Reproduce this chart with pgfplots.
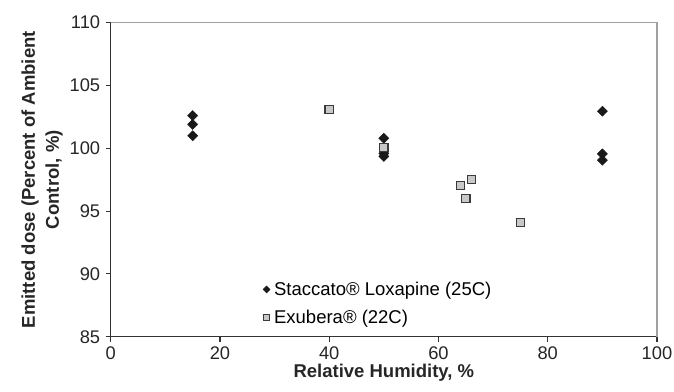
\documentclass[border=0pt]{standalone}
\usepackage{pgfplots}
\pgfplotsset{compat=1.18}
\usepackage{fontspec}
\setmainfont{Liberation Sans}
\definecolor{axcol}{HTML}{333333}
\definecolor{framecol}{HTML}{A0A0A0}
\definecolor{sqfill}{HTML}{C8C8C8}
\definecolor{sqdraw}{HTML}{3A3A3A}
\begin{document}
\begin{tikzpicture}
\begin{axis}[
  name=ax,
  scale only axis,
  width=546.3pt, height=314pt,
  xmin=0, xmax=100, ymin=85, ymax=110,
  xtick={0,20,...,100}, ytick={85,90,...,110},
  axis x line*=bottom, axis y line*=left,
  x axis line style={-, axcol, line width=1.2pt},
  y axis line style={-, axcol, line width=1.2pt},
  tick align=outside,
  major tick length=5pt,
  tick style={axcol, line width=1.1pt},
  minor tick num=0,
  /pgf/number format/assume math mode=true,
  ticklabel style={font=\fontsize{18.3}{21}\selectfont, text=black!85},
  xticklabel style={yshift=-1pt},
  yticklabel style={xshift=-2pt},
  xlabel={\textbf{Relative Humidity, \%}},
  ylabel={\textbf{Emitted dose (Percent of Ambient}\\\textbf{Control, \%)}},
  xlabel style={font=\fontsize{18.5}{21}\selectfont, text=black!85, yshift=2pt},
  ylabel style={font=\fontsize{18.5}{24}\selectfont, text=black!85, align=center, yshift=0pt},
  legend style={at={(axis cs:27.3,87.65)}, anchor=west, draw=none, fill=none,
    font=\fontsize{18.5}{21}\selectfont, row sep=9pt,
    nodes={inner xsep=4pt}},
  legend cell align=left,
  legend image code/.code={\draw[#1] plot coordinates {(0.1cm,0cm)};},
  clip=false,
]
\draw[framecol, line width=1.2pt] (rel axis cs:0,1) -- (rel axis cs:1,1) -- (rel axis cs:1,0);
\addplot[only marks, mark=square*, mark size=3.6pt,
  mark options={rotate=45, fill=black!90, draw=black!90},
  legend image post style={mark size=2.5pt}]
  coordinates {
  (15,102.6) (15,101.9) (15,101.0)
  (50,100.8) (50,99.6) (50,99.35)
  (90,102.95) (90,99.55) (90,99.05)
  };
\addlegendentry{Staccato® Loxapine (25C)}
\addplot[only marks, mark=square*, mark size=4.1pt,
  mark options={fill=sqfill, draw=sqdraw, line width=1.3pt},
  legend image post style={mark size=3pt, mark options={fill=sqfill, draw=sqdraw, line width=1pt}}]
  coordinates {
  (40,103.1) (50,100.05) (64,97.05) (66,97.5) (65,96.0) (75,94.1)
  };
\addlegendentry{Exubera® (22C)}
\end{axis}
\pgfresetboundingbox
\path ([shift={(-110.7pt,-54.3pt)}]ax.south west) rectangle ([shift={(17pt,22.7pt)}]ax.north east);
\end{tikzpicture}
\end{document}
